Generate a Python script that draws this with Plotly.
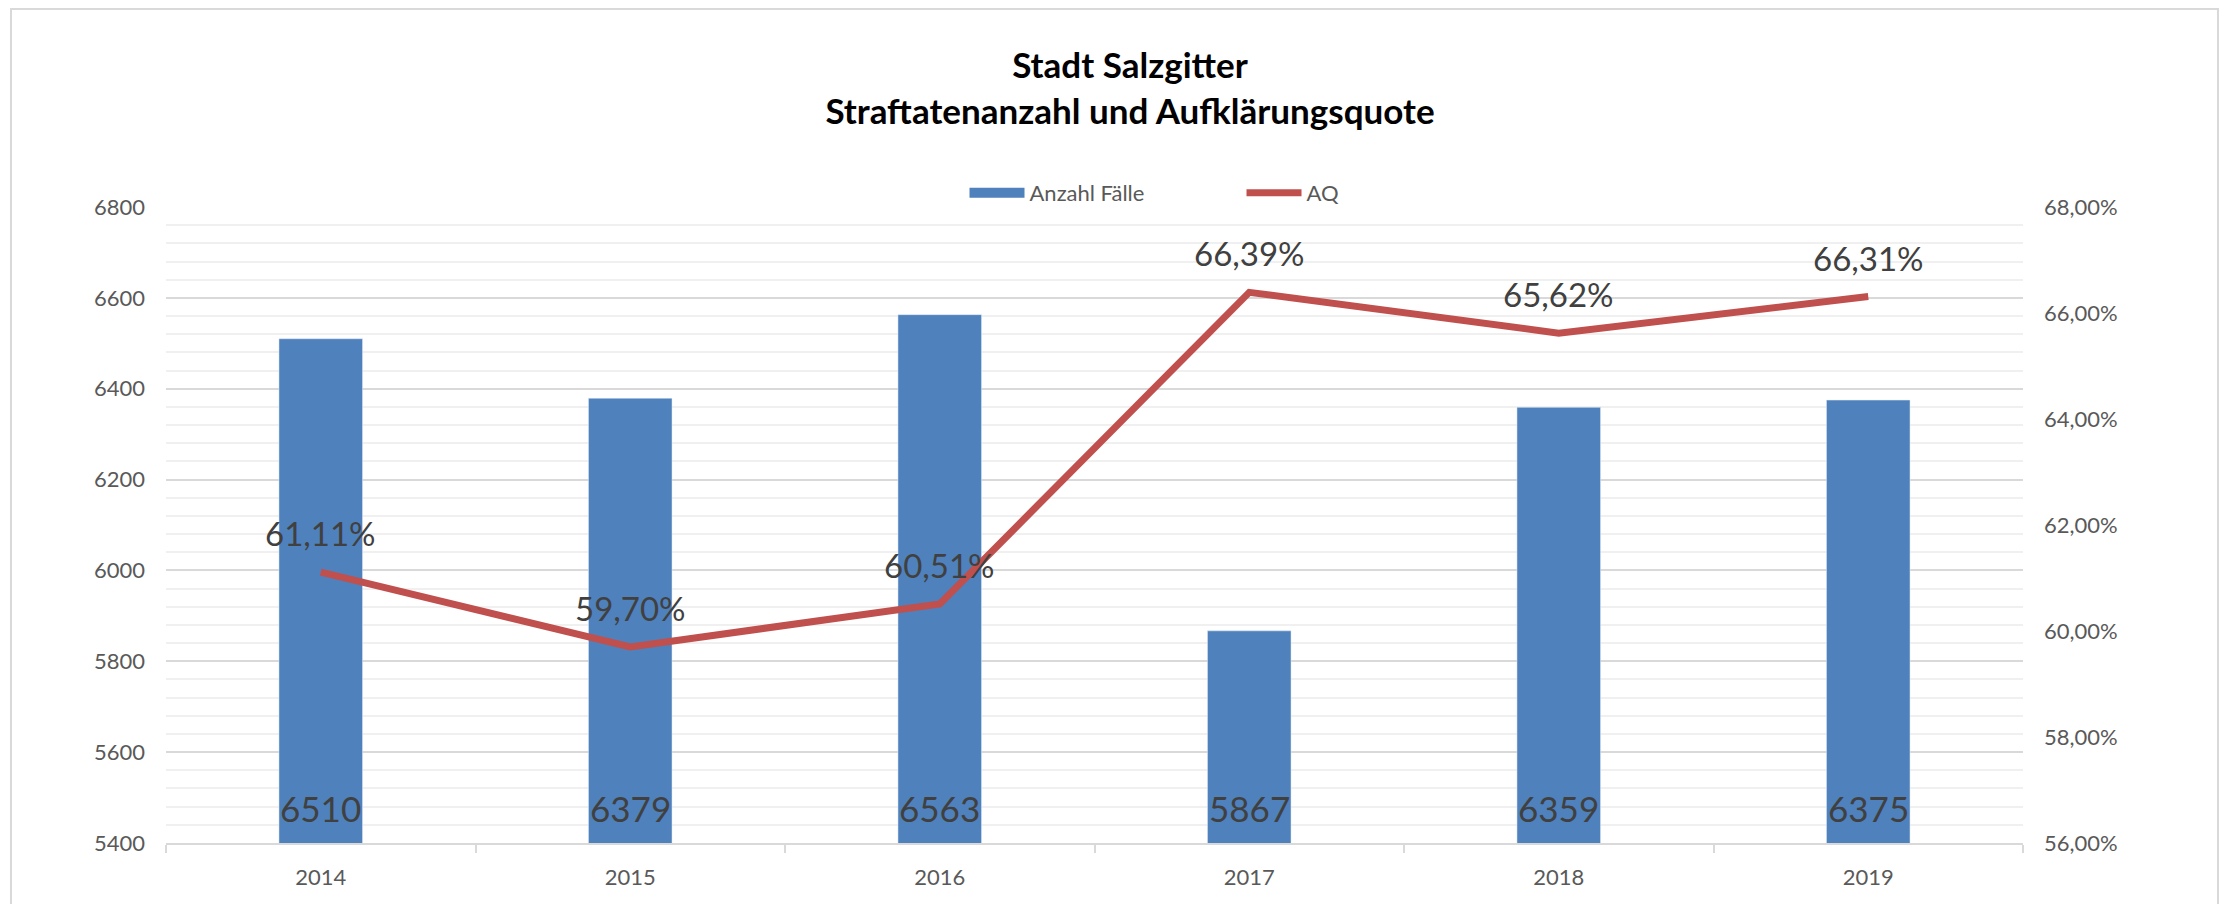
import plotly.graph_objects as go

years = ["2014", "2015", "2016", "2017", "2018", "2019"]
faelle = [6510, 6379, 6563, 5867, 6359, 6375]
aq = [61.11, 59.70, 60.51, 66.39, 65.62, 66.31]

title_lines = ["Stadt Salzgitter", "Straftatenanzahl und Aufklärungsquote"]
bar_name = "Anzahl Fälle"
line_name = "AQ"

BLUE = "#4f81bd"
RED = "#c0504d"
FONT = "Lato"

# page body has an 8px margin; figure size compensates so the plot lands in place
W, H = 2223, 896

fig = go.Figure()
fig.add_trace(go.Bar(x=years, y=faelle, name=bar_name, marker_color=BLUE,
                     showlegend=False, yaxis="y"))
# legend entry with a wide blue swatch like the original
fig.add_trace(go.Scatter(x=[years[0]], y=[None], mode="lines", name=bar_name,
                         line=dict(color=BLUE, width=14), yaxis="y"))
fig.add_trace(go.Scatter(x=years, y=aq, mode="lines", name=line_name,
                         line=dict(color=RED, width=7), yaxis="y2"))

annotations = []
for i, v in enumerate(aq):
    annotations.append(dict(x=i, y=v, xref="x", yref="y2",
                            text=f"{v:.2f}".replace(".", ",") + "%",
                            showarrow=False, yanchor="middle", yshift=39,
                            font=dict(family=FONT, size=33, color="#404040")))
for i, v in enumerate(faelle):
    annotations.append(dict(x=i, y=0, xref="x", yref="y domain",
                            text=str(v), showarrow=False, yanchor="middle",
                            yshift=35,
                            font=dict(family=FONT, size=35, color="#404040")))

fig.update_layout(
    width=W, height=H,
    margin=dict(l=158, r=208, t=199, b=61),
    paper_bgcolor="white", plot_bgcolor="white",
    separators=",.",
    font=dict(family=FONT, size=22, color="#595959"),
    title=dict(text="<b>" + "<br>".join(title_lines) + "</b>",
               x=(1130 - 8) / W, xanchor="center", xref="container",
               y=1 - 70 / H, yanchor="top", yref="container",
               font=dict(family=FONT, size=35, color="#000000")),
    bargap=0.73,
    showlegend=True,
    legend=dict(orientation="h", x=0.43, xanchor="left", y=1.022,
                yanchor="middle", font=dict(family=FONT, size=22, color="#595959"),
                itemwidth=55, entrywidth=207, entrywidthmode="pixels",
                bgcolor="rgba(0,0,0,0)"),
    xaxis=dict(type="category", categoryorder="array", categoryarray=years,
               range=[-0.5, len(years) - 0.5],
               showline=True, linecolor="#d9d9d9", linewidth=2,
               ticks="outside", tickson="boundaries", ticklen=8,
               tickcolor="#d9d9d9", tickwidth=2, showgrid=False,
               tickangle=0, ticklabelstandoff=14,
               tickfont=dict(family=FONT, size=22, color="#595959")),
    yaxis=dict(range=[5400, 6800], dtick=200, showgrid=True,
               gridcolor="#d9d9d9", gridwidth=1.5, zeroline=False,
               showline=False, ticks="", ticklabelstandoff=20,
               tickfont=dict(family=FONT, size=22, color="#595959")),
    yaxis2=dict(range=[56, 68], dtick=2, overlaying="y", side="right",
                showgrid=False, zeroline=False, showline=False,
                tickformat=".2f", ticksuffix="%", ticklabelstandoff=20,
                tickfont=dict(family=FONT, size=22, color="#595959")),
    annotations=annotations,
    shapes=[dict(type="rect", xref="paper", yref="paper",
                 x0=(11 - 166) / 1857, x1=(2218 - 166) / 1857,
                 y0=(835 - 930) / 636, y1=(835 - 1) / 636,
                 line=dict(color="#d9d9d9", width=2), layer="below")],
)
fig.update_yaxes(selector=dict(side="left"), minor=dict(dtick=40, showgrid=True,
                 gridcolor="#f0f0f0", gridwidth=1.5))
fig.layout.yaxis.minor = dict(dtick=40, showgrid=True, gridcolor="#f0f0f0",
                              gridwidth=1.5)

fig.write_html("out.html")
